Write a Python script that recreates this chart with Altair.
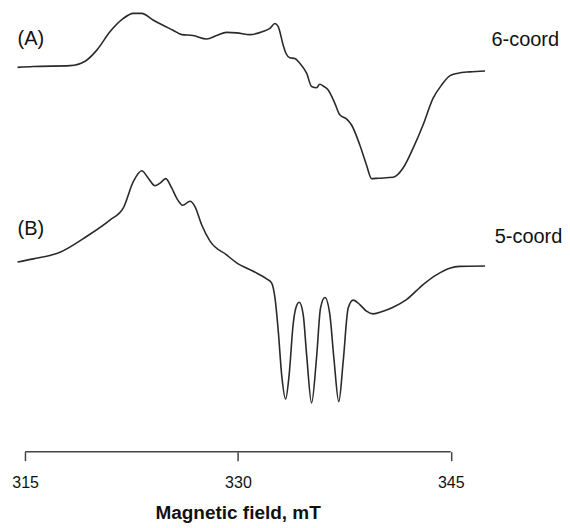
import altair as alt
import pandas as pd

# ---- data (field in mT, intensity in arbitrary units) ----
field_a = [314.46, 315.56, 318.17, 319.23, 320.05, 320.99, 321.90, 322.61, 323.22, 324.01,
           324.72, 325.42, 326.04, 326.83, 327.80, 328.50, 329.20, 329.91, 330.85, 331.76,
           332.25, 332.61, 332.84, 333.19, 333.38, 333.66, 334.01, 334.37, 334.84, 335.19,
           335.54, 335.77, 336.06, 336.36, 336.83, 337.18, 337.65, 338.01, 338.59, 339.06,
           339.42, 339.88, 340.94, 341.64, 342.35, 343.05, 343.75, 344.35, 344.93, 345.51,
           346.34, 347.42]
signal_a = [86.7, 86.9, 87.1, 88.1, 90.6, 94.8, 97.7, 98.9, 98.9, 97.4,
            96.2, 95.1, 94.1, 93.9, 93.1, 93.9, 94.6, 94.5, 94.1, 94.8,
            95.5, 96.6, 95.9, 91.7, 89.9, 88.9, 88.7, 87.6, 85.4, 82.4,
            82.1, 82.9, 82.4, 81.6, 78.6, 76.0, 75.1, 73.7, 69.2, 64.7,
            61.6, 61.7, 61.9, 64.0, 68.5, 73.7, 79.7, 82.7, 84.8, 85.4,
            85.7, 85.9]

field_b = [314.46, 315.58, 317.46, 319.35, 320.99, 321.92, 322.63, 323.22, 323.68, 324.15,
           324.51, 324.91, 325.33, 325.68, 326.11, 326.62, 326.97, 327.44, 328.03, 329.20,
           329.91, 331.08, 332.02, 332.37, 332.61, 332.84, 333.08, 333.36, 333.61, 333.89,
           334.08, 334.32, 334.60, 334.84, 335.19, 335.54, 335.82, 336.13, 336.48, 336.76,
           337.11, 337.42, 337.77, 338.12, 338.59, 339.06, 339.53, 340.23, 340.94, 341.88,
           343.05, 343.99, 344.93, 345.63, 347.42]
signal_b = [42.8, 43.5, 45.0, 48.6, 52.3, 55.0, 61.0, 63.4, 61.7, 60.0,
            60.6, 61.6, 59.5, 57.2, 55.6, 56.5, 55.3, 51.2, 47.5, 44.4,
            42.6, 40.7, 39.0, 38.1, 34.7, 27.3, 17.4, 11.9, 17.4, 28.7,
            32.4, 33.7, 30.9, 21.9, 11.0, 21.2, 32.4, 34.8, 30.9, 21.2,
            11.3, 20.4, 32.4, 34.2, 33.2, 31.7, 31.1, 31.7, 32.6, 34.3,
            37.7, 39.9, 41.4, 41.8, 41.9]

tick_values = [315, 330, 345]

panel_labels = ["(A)", "(B)"]
panel_label_field = [314.46, 314.46]
panel_label_signal = [93.2, 50.2]

coord_labels = ["6-coord", "5-coord"]
coord_label_field = [347.87, 348.10]
coord_label_signal = [92.8, 48.4]

# ---- tables ----
spectra = pd.concat([
    pd.DataFrame({"field": field_a, "signal": signal_a, "trace": "A"}),
    pd.DataFrame({"field": field_b, "signal": signal_b, "trace": "B"}),
], ignore_index=True)

labels_left = pd.DataFrame({"field": panel_label_field, "signal": panel_label_signal, "text": panel_labels})
labels_right = pd.DataFrame({"field": coord_label_field, "signal": coord_label_signal, "text": coord_labels})
axis_line = pd.DataFrame({"x": [tick_values[0]], "x2": [tick_values[-1]], "y": [0]})

FONT = "Liberation Sans"
xscale = alt.Scale(domain=[314, 352], nice=False, zero=False)
yscale = alt.Scale(domain=[0, 100], nice=False, zero=False)

lines = alt.Chart(spectra).mark_line(
    color="#2a2a2a", strokeWidth=1.6, interpolate="monotone"
).encode(
    x=alt.X("field:Q", scale=xscale,
            axis=alt.Axis(values=tick_values, domain=False, grid=False,
                          tickSize=9, tickWidth=1.5, tickColor="#444444",
                          labelFontSize=16, labelColor="#111111", labelFont=FONT,
                          labelPadding=14, format="d",
                          title="Magnetic field, mT", titleFont=FONT, titleFontSize=19,
                          titleFontWeight="bold", titleColor="#111111",
                          titlePadding=13, titleX=227)),
    y=alt.Y("signal:Q", scale=yscale, axis=None),
    detail="trace:N",
)

rule = alt.Chart(axis_line).mark_rule(color="#444444", strokeWidth=1.5).encode(
    x=alt.X("x:Q", scale=xscale),
    x2="x2:Q",
    y=alt.Y("y:Q", scale=yscale),
)

left_text = alt.Chart(labels_left).mark_text(
    align="left", baseline="middle", fontSize=20, font=FONT, color="#111111"
).encode(x=alt.X("field:Q", scale=xscale), y=alt.Y("signal:Q", scale=yscale), text="text:N")

right_text = alt.Chart(labels_right).mark_text(
    align="left", baseline="middle", fontSize=20, font=FONT, color="#111111"
).encode(x=alt.X("field:Q", scale=xscale), y=alt.Y("signal:Q", scale=yscale), text="text:N")

chart = alt.layer(lines, rule, left_text, right_text).properties(
    width=540, height=444,
    autosize=alt.AutoSizeParams(type="none"),
    padding={"left": 3, "top": 0, "right": 12, "bottom": 72},
    background="white",
).configure_view(stroke=None)

chart.save("out.html", embed_options={"renderer": "svg", "actions": False})
